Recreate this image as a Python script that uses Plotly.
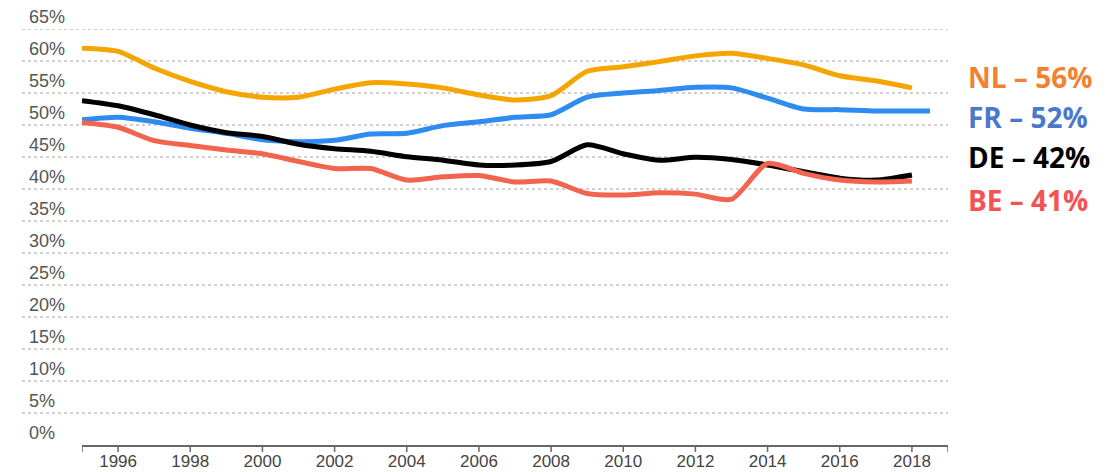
import plotly.graph_objects as go

years = [1995, 1996, 1997, 1998, 1999, 2000, 2001, 2002, 2003, 2004, 2005, 2006,
         2007, 2008, 2009, 2010, 2011, 2012, 2013, 2014, 2015, 2016, 2017, 2018]
years_fr = years + [2018.5]

nl = [62.0, 61.5, 58.9, 56.8, 55.2, 54.35, 54.35, 55.6, 56.6, 56.4, 55.8, 54.7,
      53.9, 54.6, 58.4, 59.1, 59.9, 60.8, 61.2, 60.4, 59.4, 57.7, 56.9, 55.8]
fr = [50.8, 51.2, 50.5, 49.5, 48.7, 47.7, 47.4, 47.6, 48.6, 48.7, 49.9, 50.5,
      51.2, 51.6, 54.35, 55.0, 55.4, 55.9, 55.8, 54.2, 52.5, 52.4, 52.2, 52.2, 52.2]
de = [53.8, 53.0, 51.6, 50.0, 48.8, 48.2, 47.0, 46.3, 45.9, 45.05, 44.5, 43.75,
      43.75, 44.3, 46.9, 45.5, 44.5, 44.95, 44.6, 43.75, 42.7, 41.7, 41.4, 42.2]
be = [50.4, 49.65, 47.55, 46.8, 46.1, 45.5, 44.3, 43.2, 43.2, 41.4, 41.9, 42.1,
      41.1, 41.25, 39.3, 39.05, 39.4, 39.2, 38.4, 44.0, 42.45, 41.4, 41.1, 41.25]

y_ticks = [0, 5, 10, 15, 20, 25, 30, 35, 40, 45, 50, 55, 60, 65]
x_ticks = [1995] + list(range(1996, 2019, 2)) + [2019]
x_ticktext = [""] + [str(y) for y in range(1996, 2019, 2)] + [""]

labels = ["NL – 56%", "FR – 52%", "DE – 42%", "BE – 41%"]
label_colors = ["#F08232", "#4A78CC", "#000000", "#F55252"]
label_pos = [0.8846, 0.7885, 0.693, 0.589]

# page body has an 8px margin, so figure coordinates = screen - 8
W, H = 1105, 464
L, R, T, B = 74, 165, 21, 27
pw = W - L - R
ph = H - T - B
TICK_LEN = 7

fig = go.Figure()
series = [
    ("NL", years, nl, "#F5A500"),
    ("FR", years_fr, fr, "#2E8BF0"),
    ("DE", years, de, "#000000"),
    ("BE", years, be, "#F26450"),
]
for name, xs, ys, col in series:
    fig.add_trace(go.Scatter(x=xs, y=ys, mode="lines", name=name,
                             line=dict(color=col, width=5, shape="spline", smoothing=0.7),
                             hoverinfo="skip"))

shapes = []
for v in y_ticks[1:]:
    shapes.append(dict(type="line", xref="paper", yref="y",
                       x0=(14 - L) / pw, x1=1.0, y0=v, y1=v,
                       line=dict(color="#A0A0A0", width=1, dash="dot"), layer="below"))
# tick marks below the x axis line
for xv in x_ticks:
    shapes.append(dict(type="line", xref="x", yref="paper", x0=xv, x1=xv,
                       y0=0, y1=-TICK_LEN / ph, line=dict(color="#666666", width=1.5)))

annotations = []
for v in y_ticks:
    annotations.append(dict(xref="paper", yref="y", x=(19 - L) / pw, y=v,
                            xanchor="left", yanchor="bottom", showarrow=False,
                            text=f"{v}%", font=dict(family="Liberation Sans, Arial", size=18, color="#555555")))
for txt, col, py in zip(labels, label_colors, label_pos):
    annotations.append(dict(xref="paper", yref="paper", x=(958 - L) / pw, y=py,
                            xanchor="left", yanchor="middle", showarrow=False,
                            text=f"<b>{txt}</b>", font=dict(family="Open Sans", size=28, color=col)))

fig.update_layout(
    width=W, height=H,
    margin=dict(l=L, r=R, t=T, b=B),
    paper_bgcolor="white", plot_bgcolor="white",
    showlegend=False,
    shapes=shapes, annotations=annotations,
    xaxis=dict(range=[1995, 2019], tickmode="array", tickvals=x_ticks, ticktext=x_ticktext,
               automargin=False,
               showgrid=False, zeroline=False, showline=True, linecolor="#666666", linewidth=2,
               ticks="",
               tickfont=dict(family="Liberation Sans, Arial", size=17, color="#444444")),
    yaxis=dict(range=[0, 65], automargin=False, showgrid=False, zeroline=False,
               showticklabels=False, showline=False),
)

fig.write_html("out.html")
